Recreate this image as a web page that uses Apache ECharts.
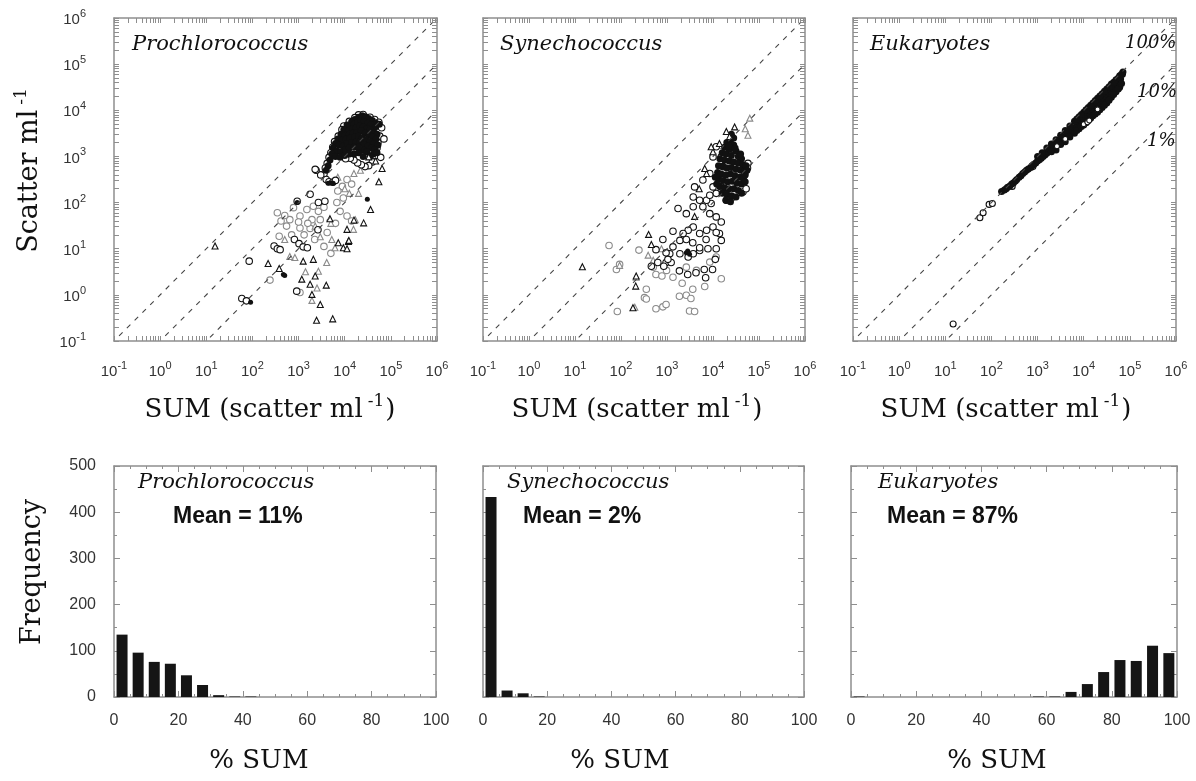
<!DOCTYPE html>
<html><head><meta charset="utf-8">
<script src="https://cdn.jsdelivr.net/npm/echarts@6/dist/echarts.min.js"></script>
<style>html,body{margin:0;padding:0;background:#fff}#c{width:1196px;height:781px}</style>
</head><body><div id="c"></div>
<script>
// ---------- DATA (scatter points stored as [log10(SUM), log10(scatter)]) ----------
const species = ['Prochlorococcus', 'Synechococcus', 'Eukaryotes'];
const meanLabels = ['Mean = 11%', 'Mean = 2%', 'Mean = 87%'];
const ratioLabels = ['100%', '10%', '1%'];

const proCoreLog = [[4.30,3.85],[4.38,3.88],[4.45,3.86],[4.52,3.82],[4.22,3.80],[4.15,3.75],[4.60,3.78],[4.68,3.72],[4.75,3.70],[4.05,3.68],[4.12,3.65],[4.20,3.70],[4.28,3.74],[4.35,3.78],[4.42,3.75],[4.50,3.72],[4.57,3.68],[4.65,3.62],[3.98,3.58],[4.08,3.55],[4.17,3.60],[4.25,3.62],[4.33,3.66],[4.40,3.64],[4.48,3.60],[4.55,3.58],[4.62,3.52],[4.70,3.48],[3.92,3.48],[4.00,3.45],[4.10,3.48],[4.18,3.50],[4.27,3.52],[4.36,3.55],[4.44,3.50],[4.52,3.46],[4.60,3.42],[4.68,3.38],[3.85,3.38],[3.95,3.35],[4.03,3.38],[4.12,3.40],[4.22,3.42],[4.30,3.44],[4.38,3.40],[4.46,3.36],[4.55,3.32],[4.63,3.28],[4.72,3.25],[3.80,3.28],[3.88,3.25],[3.97,3.22],[4.06,3.28],[4.15,3.30],[4.25,3.32],[4.33,3.30],[4.42,3.26],[4.50,3.22],[4.58,3.18],[4.66,3.15],[3.75,3.18],[3.83,3.12],[3.92,3.10],[4.02,3.15],[4.10,3.18],[4.20,3.20],[4.40,3.14],[4.48,3.10],[4.62,3.05],[3.72,3.05],[3.80,3.00],[3.90,2.98],[4.00,3.02],[4.70,3.08],[4.30,3.20],[4.30,3.08],[4.20,3.05],[4.40,3.00],[4.55,3.00],[4.10,3.05],[3.68,2.92],[3.64,2.80],[3.60,2.70]];
const proBlackCircLog = [[4.30,3.90],[4.40,3.91],[4.22,3.84],[4.10,3.76],[3.98,3.66],[3.94,3.58],[3.86,3.44],[3.78,3.32],[3.74,3.20],[3.70,3.08],[3.66,2.98],[4.55,3.85],[4.65,3.80],[4.74,3.74],[4.80,3.62],[4.76,3.44],[4.72,3.30],[4.70,3.18],[4.66,3.02],[4.60,2.88],[4.52,2.80],[4.44,2.78],[4.36,2.82],[4.28,2.86],[4.20,2.92],[4.12,2.96],[4.02,2.95],[3.62,2.85],[3.58,2.75],[3.55,2.62],[3.48,2.60],[3.38,2.70],[3.36,2.72],[3.60,2.50],[3.66,2.45],[3.74,2.44],[3.80,2.48],[4.78,2.98],[4.85,3.38],[1.93,0.73],[1.77,-0.08],[1.87,-0.13],[2.47,1.06],[2.54,1.00],[2.60,0.98],[2.91,1.20],[3.01,1.11],[3.10,1.04],[3.19,1.02],[2.97,2.03],[3.25,2.18],[3.43,2.00],[3.57,2.03],[3.42,1.41],[2.96,0.08]];
const proBlackDotLog = [[1.96,-0.16],[2.67,0.44],[2.70,0.42],[2.97,2.00],[3.70,2.43],[3.75,2.42],[4.49,2.07],[3.64,2.42]];
const proBlackTriLog = [[1.19,1.06],[2.34,0.68],[2.58,0.57],[3.10,0.73],[3.32,0.77],[3.07,0.34],[3.25,0.23],[3.36,0.41],[3.60,0.21],[3.29,0.01],[3.47,-0.21],[3.39,-0.55],[3.74,-0.52],[3.68,1.65],[3.86,1.13],[3.97,1.02],[4.08,1.16],[4.05,1.42],[4.05,1.00],[4.09,1.18],[4.20,1.62],[4.41,1.56],[4.56,1.85],[4.74,2.45],[4.81,2.74],[4.67,2.90],[4.52,2.99]];
const proGreyCircLog = [[2.38,0.32],[2.54,1.78],[2.58,1.27],[2.81,1.63],[2.74,1.49],[3.03,1.45],[3.25,1.44],[2.89,1.89],[3.03,1.71],[3.18,1.85],[3.32,1.92],[3.43,1.81],[3.47,1.63],[3.29,1.63],[3.83,2.00],[3.97,2.10],[3.90,1.81],[4.05,1.71],[4.15,1.60],[3.03,0.05],[2.85,1.30],[3.12,1.30],[3.35,1.20],[3.55,1.05],[3.70,0.90],[3.62,1.35],[3.80,1.55],[3.95,2.35],[4.05,2.50],[3.85,2.25],[4.15,2.40],[2.62,1.60],[2.70,1.72],[3.00,1.58],[3.20,1.55],[3.55,1.90]];
const proGreyTriLog = [[2.92,0.81],[2.81,0.83],[3.36,1.49],[3.47,1.26],[3.72,1.20],[3.79,1.02],[4.19,1.42],[4.23,1.63],[3.43,0.51],[3.61,0.70],[3.29,-0.12],[3.40,0.15],[2.70,1.20],[3.15,0.50],[3.85,2.55],[4.20,2.63],[4.34,2.70],[4.00,2.30],[4.10,2.20],[3.70,1.55],[4.30,2.20]];

const synCoreLog = [[4.30,3.30],[4.38,3.35],[4.45,3.25],[4.25,3.20],[4.35,3.15],[4.50,3.12],[4.20,3.08],[4.28,3.05],[4.40,3.02],[4.55,3.00],[4.62,2.95],[4.15,2.95],[4.25,2.92],[4.35,2.90],[4.45,2.88],[4.55,2.85],[4.65,2.82],[4.12,2.80],[4.20,2.78],[4.30,2.75],[4.40,2.76],[4.50,2.72],[4.60,2.70],[4.68,2.68],[4.10,2.65],[4.18,2.62],[4.28,2.60],[4.38,2.62],[4.48,2.58],[4.58,2.55],[4.66,2.52],[4.12,2.50],[4.22,2.48],[4.32,2.45],[4.42,2.46],[4.52,2.42],[4.62,2.40],[4.15,2.35],[4.25,2.32],[4.35,2.30],[4.45,2.30],[4.55,2.26],[4.20,2.20],[4.30,2.18],[4.40,2.15],[4.50,2.12],[4.28,2.05],[4.38,2.02],[4.05,2.55],[4.08,2.40],[4.70,2.60],[4.62,2.20],[4.45,3.40],[4.40,3.48],[4.72,2.80],[4.74,2.70],[4.70,2.45],[4.60,3.05],[4.35,3.22],[4.48,3.18]];
const synBlackCircLog = [[4.07,3.21],[4.18,2.99],[4.22,2.78],[4.36,3.10],[4.58,2.99],[4.69,2.63],[4.76,2.85],[4.65,2.23],[4.58,2.45],[4.43,2.12],[4.29,2.05],[4.18,2.34],[4.07,2.20],[3.96,1.98],[3.86,2.05],[3.78,1.91],[3.93,1.76],[4.07,1.69],[4.18,1.58],[4.00,1.47],[3.86,1.40],[3.71,1.33],[3.57,1.47],[3.46,1.40],[3.35,1.33],[3.28,1.18],[3.13,1.04],[3.06,0.89],[3.28,0.89],[3.46,0.82],[3.57,0.89],[3.71,0.96],[3.89,1.00],[4.07,1.00],[4.18,1.18],[4.14,1.33],[3.24,1.87],[3.42,1.76],[3.57,1.91],[3.71,2.05],[4.00,2.34],[4.11,2.56],[4.00,2.99],[3.93,2.63],[3.78,2.49],[3.60,2.34],[3.57,2.12],[3.93,2.16],[2.98,0.70],[3.09,0.70],[3.27,0.52],[3.45,0.44],[3.63,0.48],[3.81,0.55],[3.99,0.55],[2.66,0.62],[2.80,0.70],[2.93,0.62],[3.02,0.77],[2.76,0.98],[2.98,0.91],[2.91,1.20],[3.13,1.38],[3.42,1.20],[3.56,1.13],[3.71,1.02],[3.85,1.20],[4.07,1.35],[3.84,0.37],[4.05,0.77],[4.72,2.30],[4.75,2.75]];
const synBlackDotLog = [[3.42,0.91],[3.49,0.88],[3.45,0.95]];
const synBlackTriLog = [[1.16,0.61],[2.60,1.31],[2.66,1.09],[2.33,0.41],[2.32,0.19],[2.26,-0.28],[4.29,3.54],[4.47,3.64],[4.36,3.43],[4.00,3.10],[4.14,3.28],[3.86,2.63],[3.82,2.74],[3.96,3.21],[3.70,2.30],[3.60,1.70]];
const synGreyCircLog = [[1.74,1.07],[1.90,0.55],[1.97,0.66],[2.39,0.97],[2.55,0.12],[2.51,-0.06],[1.92,-0.36],[2.76,-0.30],[2.91,-0.26],[2.98,-0.21],[3.27,-0.03],[3.42,-0.01],[3.52,-0.08],[3.49,-0.35],[3.60,-0.36],[3.33,0.25],[2.76,0.44],[2.89,0.41],[3.56,0.12],[3.82,0.18],[4.18,0.35],[3.93,0.71],[4.07,0.82],[3.64,0.53],[3.13,0.38],[2.99,0.53],[2.70,0.60],[3.42,0.60],[2.55,-0.09]];
const synGreyTriLog = [[1.97,0.64],[2.33,0.38],[2.70,0.75],[2.88,1.00],[2.59,0.86],[4.80,3.83],[4.76,3.46],[4.70,3.60],[2.30,-0.27]];

const eukCoreLog = [[2.22,2.24],[2.28,2.27],[2.32,2.30],[2.35,2.33],[2.40,2.36],[2.44,2.40],[2.48,2.43],[2.52,2.47],[2.55,2.50],[2.60,2.55],[2.64,2.58],[2.68,2.63],[2.72,2.66],[2.76,2.70],[2.80,2.73],[2.85,2.76],[2.88,2.80],[2.92,2.83],[2.96,2.86],[3.00,2.90],[3.04,2.93],[3.08,2.96],[3.12,3.00],[3.16,3.03],[3.20,3.07],[3.24,3.10],[3.28,3.14],[3.32,3.18],[3.36,3.21],[3.40,3.25],[3.44,3.29],[3.48,3.32],[3.52,3.35],[3.56,3.40],[3.60,3.43],[3.64,3.47],[3.68,3.50],[3.72,3.54],[3.76,3.58],[3.80,3.62],[3.84,3.65],[3.88,3.70],[3.92,3.73],[3.96,3.77],[4.00,3.81],[4.04,3.85],[4.08,3.89],[4.12,3.93],[4.16,3.97],[4.20,4.01],[4.24,4.05],[4.28,4.09],[4.32,4.13],[4.36,4.17],[4.40,4.21],[4.44,4.26],[4.48,4.30],[4.52,4.34],[4.56,4.38],[4.60,4.43],[4.64,4.47],[4.68,4.52],[4.72,4.56],[4.76,4.62],[4.80,4.68],[4.84,4.78],
  [3.00,3.00],[3.20,3.18],[3.40,3.36],[3.60,3.56],[3.80,3.76],[3.90,3.86],[4.00,3.96],[4.10,4.06],[4.20,4.16],[4.30,4.26],[4.40,4.36],[4.50,4.46],[4.60,4.57],[4.70,4.66],[4.78,4.75],[4.85,4.83],
  [3.40,3.14],[3.60,3.32],[3.80,3.50],[3.90,3.60],[4.00,3.68],[4.10,3.78],[4.20,3.88],[4.30,3.96],[4.40,4.06],[4.50,4.16],[4.60,4.28],[4.70,4.40],[4.78,4.50],
  [3.10,3.08],[3.30,3.27],[3.50,3.46],[3.70,3.66],[3.85,3.81],[3.95,3.91],[4.05,4.01],[4.15,4.11],[4.25,4.21],[4.35,4.31],[4.45,4.41],[4.55,4.51],[4.65,4.61],[4.75,4.70],[4.82,4.78],
  [3.30,3.10],[3.50,3.26],[3.70,3.42],[3.85,3.56],[3.95,3.65],[4.05,3.73],[4.15,3.83],[4.25,3.92],[4.35,4.01],[4.45,4.11],[4.55,4.22],[4.65,4.34],[4.75,4.46],[4.82,4.58]];
const eukCircLog = [[1.75,1.67],[1.82,1.78],[1.95,1.96],[2.02,1.98],[1.17,-0.63],[2.45,2.35],[2.90,2.78]];
const eukInnerCircLog = [[3.42,3.22],[4.00,3.70],[4.08,3.74],[4.12,3.78],[3.60,3.38],[4.30,4.02]];

// reference lines in log10 space: log10(scatter) = log10(SUM) + offset  (100%, 10%, 1%)
const ratioLines = [{offset:0, from:-0.89, to:5.90}, {offset:-1, from:0.11, to:5.95}, {offset:-2, from:1.08, to:5.95}];

// histograms (5 % bins)
const binCenters = [2.5,7.5,12.5,17.5,22.5,27.5,32.5,37.5,42.5,47.5,52.5,57.5,62.5,67.5,72.5,77.5,82.5,87.5,92.5,97.5];
const proFreq = [135,96,76,72,47,26,4,1,1,0,0,0,0,0,0,0,0,0,0,0];
const synFreq = [433,14,8,1,0,0,0,0,0,0,0,0,0,0,0,0,0,0,0,0];
const eukFreq = [1,0,0,0,0,0,0,0,0,0,0,1,1,11,28,54,80,78,111,95];

const logTickExponents = [-1,0,1,2,3,4,5,6];
const freqTicks = [0,100,200,300,400,500];
const pctTicks = [0,20,40,60,80,100];

// ---------- CHART ----------
const AX = '#8e8e8e', INK = '#111', GREY = '#8a8a8a', LBL = '#333';
const topGrids = [{left:114,top:18,width:323,height:323},{left:483,top:18,width:322,height:323},{left:853,top:18,width:323,height:323}];
const botGrids = [{left:114,top:466,width:322,height:231},{left:483,top:466,width:321,height:231},{left:851,top:466,width:326,height:231}];
const grids = topGrids.concat(botGrids);

const supRich = {
  n:{fontSize:15, fontFamily:'Liberation Sans', color:LBL, verticalAlign:'bottom', lineHeight:19},
  s:{fontSize:11, fontFamily:'Liberation Sans', color:LBL, verticalAlign:'top', lineHeight:11}
};
function logFmt(v){ return '{n|10}{s|' + Math.round(v) + '}'; }

// tick positions of a decade axis (log10 space): decades and 2..9 within each decade
const logTickPos = [];
logTickExponents.forEach(e => { logTickPos.push(e); if (e < 6) for (let m=2;m<=9;m++) logTickPos.push(e + Math.log10(m)); });

const xAxes = [], yAxes = [];
for (let i=0;i<3;i++){
  const base = {type:'value', gridIndex:i, min:-1, max:6, interval:1,
    axisLine:{show:true, onZero:false, lineStyle:{color:AX, width:1.5}},
    axisTick:{show:true, inside:true, length:5, customValues:logTickPos, lineStyle:{color:AX}},
    splitLine:{show:false}};
  xAxes.push(Object.assign({}, base, {position:'bottom', axisLabel:{show:true, margin:19, formatter:logFmt, rich:supRich, customValues:logTickExponents}}));
  xAxes.push(Object.assign({}, base, {position:'top', axisLabel:{show:false}}));
  yAxes.push(Object.assign({}, base, {position:'left', axisLabel:{show:i===0, margin:28, formatter:logFmt, rich:supRich, customValues:logTickExponents}}));
  yAxes.push(Object.assign({}, base, {position:'right', axisLabel:{show:false}}));
}
for (let j=0;j<3;j++){
  const g = 3+j;
  const xb = {type:'value', gridIndex:g, min:0, max:100, interval:20,
    axisLine:{show:true, onZero:false, lineStyle:{color:AX, width:1.5}}, splitLine:{show:false},
    axisTick:{show:true, inside:true, length:6, lineStyle:{color:AX}},
    minorTick:{show:true, splitNumber:4, length:3, lineStyle:{color:AX}}};
  xAxes.push(Object.assign({}, xb, {position:'bottom', axisLabel:{show:true, margin:16, fontSize:16, fontFamily:'Liberation Sans', color:LBL}}));
  xAxes.push(Object.assign({}, xb, {position:'top', axisLabel:{show:false}}));
  const yb = {type:'value', gridIndex:g, min:0, max:500, interval:100,
    axisLine:{show:true, onZero:false, lineStyle:{color:AX, width:1.5}}, splitLine:{show:false},
    axisTick:{show:true, inside:true, length:6, lineStyle:{color:AX}},
    minorTick:{show:true, splitNumber:2, length:3, lineStyle:{color:AX}}};
  yAxes.push(Object.assign({}, yb, {position:'left', axisLabel:{show:j===0, margin:18, fontSize:16, fontFamily:'Liberation Sans', color:LBL}}));
  yAxes.push(Object.assign({}, yb, {position:'right', axisLabel:{show:false}}));
}

const series = [];
function sc(i, data, opt){
  series.push(Object.assign({type:'scatter', xAxisIndex:2*i, yAxisIndex:2*i, data:data, silent:true, animation:false}, opt));
}
const hollow = (c, sym, size) => ({symbol:sym, symbolSize:size, itemStyle:{color:'#fff', borderColor:c, borderWidth:1.1, opacity:1}});
const filled = (c, size) => ({symbol:'circle', symbolSize:size, itemStyle:{color:c, opacity:1}});

for (let i=0;i<3;i++){
  ratioLines.forEach(r => {
    series.push({type:'line', xAxisIndex:2*i, yAxisIndex:2*i, symbol:'none', silent:true, animation:false,
      data:[[r.from, r.from + r.offset],[r.to, r.to + r.offset]], lineStyle:{color:'#444', width:1.1, type:[5,6]}});
  });
}
// Prochlorococcus
sc(0, proGreyCircLog, hollow(GREY,'circle',6.5));
sc(0, proGreyTriLog, hollow(GREY,'triangle',6));
sc(0, proBlackCircLog, hollow(INK,'circle',6.5));
sc(0, proCoreLog, filled(INK,7));
sc(0, proBlackTriLog, hollow(INK,'triangle',6));
sc(0, proBlackDotLog, filled(INK,5));
// Synechococcus
sc(1, synGreyCircLog, hollow(GREY,'circle',6.5));
sc(1, synGreyTriLog, hollow(GREY,'triangle',6));
sc(1, synBlackCircLog, hollow(INK,'circle',6.5));
sc(1, synCoreLog, filled(INK,7));
sc(1, synBlackTriLog, hollow(INK,'triangle',6));
sc(1, synBlackDotLog, filled(INK,5));
// Eukaryotes
sc(2, eukCircLog, hollow(INK,'circle',6));
sc(2, eukCoreLog, filled(INK,7));
sc(2, eukInnerCircLog, hollow(INK,'circle',5));

// Histograms
[proFreq, synFreq, eukFreq].forEach((f, j) => {
  series.push({type:'bar', xAxisIndex:6+2*j, yAxisIndex:6+2*j, barWidth:11, silent:true, animation:false,
    data: binCenters.map((c, k) => [c, f[k]]), itemStyle:{color:'#151515'}});
});

// ---------- TEXT ----------
const serif = 'DejaVu Serif';
function T(x, y, text, style, rot){
  return {type:'text', x:x, y:y, rotation:rot||0, silent:true, z:100,
    style:Object.assign({text:text, fill:INK, align:'left', verticalAlign:'middle', textAlign:'left', textVerticalAlign:'middle'}, style)};
}
const titleRich = {
  m:{fontSize:26, fontFamily:serif, fill:INK, lineHeight:30, padding:[10,0,0,0], verticalAlign:'bottom'},
  s:{fontSize:17, fontFamily:serif, fill:INK, lineHeight:18, verticalAlign:'top', padding:[0,1,0,5]}
};
const graphics = [];
const xTitleCenters = [270, 637, 1006];
xTitleCenters.forEach(cx => graphics.push(T(cx, 408, '{m|SUM (scatter ml}{s|-1}{m|)}', {rich:titleRich, align:'center', textAlign:'center'})));
graphics.push(T(28, 170, '{m|Scatter ml}{s|-1}', {rich:{
  m:{fontSize:27, fontFamily:serif, fill:INK, lineHeight:30, padding:[10,0,0,0], verticalAlign:'bottom'},
  s:{fontSize:17, fontFamily:serif, fill:INK, lineHeight:18, verticalAlign:'top', padding:[0,1,0,5]}}, align:'center', textAlign:'center'}, Math.PI/2));
graphics.push(T(33, 572, 'Frequency', {font:'27px "DejaVu Serif"', align:'center', textAlign:'center'}, Math.PI/2));
[259, 620, 997].forEach(cx => graphics.push(T(cx, 761, '% SUM', {font:'26px "DejaVu Serif"', align:'center', textAlign:'center'})));
const topLabelX = [132, 500, 870];
const botLabelX = [138, 507, 878];
const meanX = [173, 523, 887];
species.forEach((s, i) => {
  graphics.push(T(topLabelX[i], 45, s, {font:'italic 21px "DejaVu Serif"'}));
  graphics.push(T(botLabelX[i], 483, s, {font:'italic 21px "DejaVu Serif"'}));
  graphics.push(T(meanX[i], 517, meanLabels[i], {font:'bold 23px "Liberation Sans"'}));
});
const ratioPos = [[1125, 43], [1137, 92], [1147, 141]];
ratioLabels.forEach((t, k) => graphics.push(T(ratioPos[k][0], ratioPos[k][1], t, {font:'italic 18px "DejaVu Serif"'})));

const chart = echarts.init(document.getElementById('c'), null, {renderer:'canvas', width:1196, height:781});
chart.setOption({
  animation:false,
  backgroundColor:'#fff',
  grid:grids,
  xAxis:xAxes,
  yAxis:yAxes,
  series:series,
  graphic:graphics
});
</script></body></html>
